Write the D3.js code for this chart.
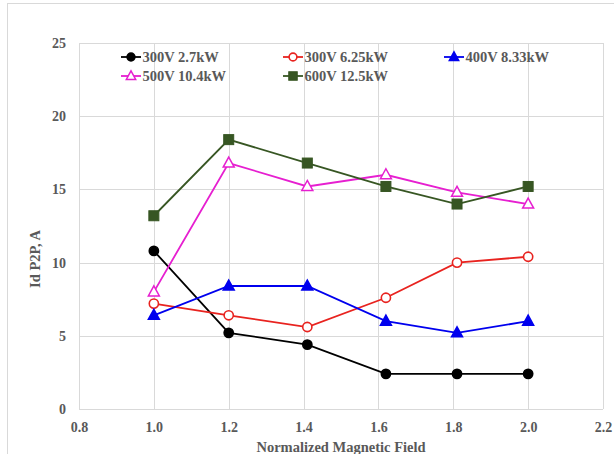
<!DOCTYPE html>
<html>
<head>
<meta charset="utf-8">
<script src="https://cdn.jsdelivr.net/npm/d3@7"></script>
<style>
  html, body { margin: 0; padding: 0; background: #fff; }
  svg { display: block; }
  text { font-family: "Liberation Serif", "Times New Roman", serif; font-weight: bold; fill: #595959; }
</style>
</head>
<body>
<svg id="chart" width="614" height="454"></svg>
<script>
// Normalized magnetic field positions of each measurement
const fieldValues = [1.0, 1.2, 1.41, 1.62, 1.81, 2.0];

// Peak-to-peak Id current (A) for each operating point
const seriesNames = ["300V 2.7kW", "300V 6.25kW", "400V 8.33kW", "500V 10.4kW", "600V 12.5kW"];
const s300v27 = [10.8, 5.2, 4.4, 2.4, 2.4, 2.4];
const s300v625 = [7.2, 6.4, 5.6, 7.6, 10.0, 10.4];
const s400v833 = [6.4, 8.4, 8.4, 6.0, 5.2, 6.0];
const s500v104 = [8.0, 16.8, 15.2, 16.0, 14.8, 14.0];
const s600v125 = [13.2, 18.4, 16.8, 15.2, 14.0, 15.2];

const xTicks = [0.8, 1.0, 1.2, 1.4, 1.6, 1.8, 2.0, 2.2];
const yTicks = [0, 5, 10, 15, 20, 25];

const seriesStyles = [
  { color: "#000000", marker: "circle", fill: "#000000" },
  { color: "#e8231f", marker: "circle", fill: "#ffffff" },
  { color: "#0000ee", marker: "triangle", fill: "#0000ee" },
  { color: "#e61fd0", marker: "triangle", fill: "#ffffff" },
  { color: "#375623", marker: "square", fill: "#375623" }
];
const seriesData = [s300v27, s300v625, s400v833, s500v104, s600v125];

const svg = d3.select("#chart");

// Outer chart frame
svg.append("rect")
  .attr("x", 7.5).attr("y", 3.5)
  .attr("width", 620).attr("height", 460)
  .attr("fill", "none").attr("stroke", "#d9d9d9").attr("stroke-width", 1);

const plot = { left: 79, right: 603, top: 43, bottom: 409 };

const x = d3.scaleLinear().domain([0.8, 2.2]).range([plot.left, plot.right]);
const y = d3.scaleLinear().domain([0, 25]).range([plot.bottom, plot.top]);

// Gridlines
const grid = svg.append("g");
grid.selectAll("line.v").data(xTicks).join("line")
  .attr("x1", d => Math.round(x(d)) + 0.5).attr("x2", d => Math.round(x(d)) + 0.5)
  .attr("y1", plot.top).attr("y2", plot.bottom)
  .attr("stroke", "#d9d9d9").attr("stroke-width", 1);
grid.selectAll("line.h").data(yTicks).join("line")
  .attr("x1", plot.left).attr("x2", plot.right)
  .attr("y1", d => Math.round(y(d)) + 0.5).attr("y2", d => Math.round(y(d)) + 0.5)
  .attr("stroke", "#d9d9d9").attr("stroke-width", 1);

// Axes (labels only; lines come from the grid)
const xAxis = svg.append("g")
  .attr("transform", `translate(0,${plot.bottom})`)
  .call(d3.axisBottom(x).tickValues(xTicks).tickFormat(d3.format(".1f")).tickSize(0).tickPadding(13));
xAxis.select(".domain").remove();
xAxis.selectAll("text").attr("font-size", 14).attr("font-family", null).attr("fill", null);

const yAxis = svg.append("g")
  .attr("transform", `translate(${plot.left},0)`)
  .call(d3.axisLeft(y).tickValues(yTicks).tickFormat(d3.format("d")).tickSize(0).tickPadding(13));
yAxis.select(".domain").remove();
yAxis.selectAll("text").attr("font-size", 14).attr("font-family", null).attr("fill", null);

// Axis titles
svg.append("text")
  .attr("x", 341).attr("y", 452)
  .attr("text-anchor", "middle").attr("font-size", 14.5)
  .text("Normalized Magnetic Field");
svg.append("text")
  .attr("transform", "translate(40,259) rotate(-90)")
  .attr("text-anchor", "middle").attr("font-size", 14.5)
  .text("Id P2P, A");

// Marker drawing helper
function drawMarker(g, type, cx, cy, st, scale) {
  const k = scale || 1;
  if (type === "circle") {
    g.append("circle").attr("cx", cx).attr("cy", cy).attr("r", 4.6 * k)
      .attr("fill", st.fill).attr("stroke", st.color).attr("stroke-width", 1.6);
  } else if (type === "square") {
    const s = 10 * k;
    g.append("rect").attr("x", cx - s / 2).attr("y", cy - s / 2).attr("width", s).attr("height", s)
      .attr("fill", st.fill).attr("stroke", st.color).attr("stroke-width", 1);
  } else {
    const h = 10 * k, w = 11 * k;
    const pts = [[cx, cy - h * 0.6], [cx + w / 2, cy + h * 0.4], [cx - w / 2, cy + h * 0.4]];
    g.append("path").attr("d", d3.line()(pts) + "Z")
      .attr("fill", st.fill).attr("stroke", st.color).attr("stroke-width", 1.5);
  }
}

const line = d3.line().x(d => x(d[0])).y(d => y(d[1]));

// Series lines and markers
seriesData.forEach((vals, i) => {
  const st = seriesStyles[i];
  const pts = fieldValues.map((f, j) => [f, vals[j]]);
  const g = svg.append("g");
  g.append("path").attr("d", line(pts))
    .attr("fill", "none").attr("stroke", st.color).attr("stroke-width", 1.8);
  pts.forEach(p => drawMarker(g, st.marker, x(p[0]), y(p[1]), st));
});

// Legend
const legendPos = [
  { lx: 121, ty: 57 }, { lx: 283, ty: 57 }, { lx: 444, ty: 57 },
  { lx: 121, ty: 76 }, { lx: 283, ty: 76 }
];
seriesNames.forEach((name, i) => {
  const st = seriesStyles[i];
  const p = legendPos[i];
  const g = svg.append("g");
  g.append("line").attr("x1", p.lx).attr("x2", p.lx + 20).attr("y1", p.ty).attr("y2", p.ty)
    .attr("stroke", st.color).attr("stroke-width", 1.8);
  drawMarker(g, st.marker, p.lx + 10, p.ty, st, 0.85);
  g.append("text").attr("x", p.lx + 21.5).attr("y", p.ty + 5)
    .attr("font-size", 14.5).text(name);
});
</script>
</body>
</html>
